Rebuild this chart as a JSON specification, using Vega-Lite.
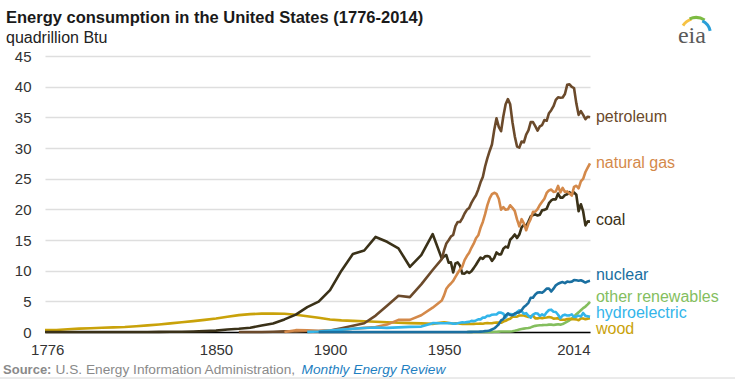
{
  "$schema": "https://vega.github.io/schema/vega-lite/v6.json",
  "width": 545,
  "height": 276,
  "autosize": {"type": "none"},
  "padding": {"left": 45, "top": 56, "right": 145, "bottom": 48},
  "background": "white",
  "config": {
    "view": {"stroke": null},
    "font": "Liberation Sans",
    "text": {"font": "Liberation Sans"},
    "axisX": {
      "format": "d",
      "labelFlush": true,
      "labelOverlap": false,
      "ticks": false,
      "grid": false,
      "domain": true,
      "domainColor": "#000000",
      "domainWidth": 1.5,
      "labelFont": "Liberation Sans",
      "labelFontSize": 15,
      "labelColor": "#333333",
      "labelPadding": 10
    },
    "axisY": {
      "labelOverlap": false,
      "ticks": false,
      "domain": false,
      "grid": true,
      "gridColor": "#dedede",
      "gridWidth": 1.5,
      "labelFont": "Liberation Sans",
      "labelFontSize": 15,
      "labelColor": "#333333",
      "labelPadding": 14
    }
  },
  "datasets": {
    "energy": [
      {"year": 1775, "wood": 0.30, "coal": 0.0},
      {"year": 1780, "wood": 0.33, "coal": 0.0},
      {"year": 1785, "wood": 0.45, "coal": 0.0},
      {"year": 1790, "wood": 0.55, "coal": 0.0},
      {"year": 1795, "wood": 0.62, "coal": 0.0},
      {"year": 1800, "wood": 0.70, "coal": 0.0},
      {"year": 1805, "wood": 0.76, "coal": 0.01},
      {"year": 1810, "wood": 0.82, "coal": 0.01},
      {"year": 1815, "wood": 0.95, "coal": 0.01},
      {"year": 1820, "wood": 1.08, "coal": 0.01},
      {"year": 1825, "wood": 1.22, "coal": 0.02},
      {"year": 1830, "wood": 1.40, "coal": 0.03},
      {"year": 1835, "wood": 1.58, "coal": 0.05},
      {"year": 1840, "wood": 1.78, "coal": 0.09},
      {"year": 1845, "wood": 1.98, "coal": 0.14},
      {"year": 1850, "wood": 2.20, "coal": 0.22},
      {"year": 1855, "wood": 2.50, "coal": 0.40},
      {"year": 1860, "wood": 2.75, "coal": 0.52, "petroleum": 0.0},
      {"year": 1865, "wood": 2.92, "coal": 0.70, "petroleum": 0.01},
      {"year": 1870, "wood": 3.00, "coal": 1.05, "petroleum": 0.01},
      {"year": 1875, "wood": 3.02, "coal": 1.40, "petroleum": 0.05},
      {"year": 1880, "wood": 2.98, "coal": 2.05, "petroleum": 0.10, "natural gas": 0.0},
      {"year": 1885, "wood": 2.80, "coal": 2.84, "petroleum": 0.04, "natural gas": 0.30},
      {"year": 1890, "wood": 2.58, "coal": 4.06, "petroleum": 0.16, "natural gas": 0.26, "hydroelectric": 0.02},
      {"year": 1895, "wood": 2.33, "coal": 4.95, "petroleum": 0.17, "natural gas": 0.15, "hydroelectric": 0.09, "nuclear": 0.0},
      {"year": 1900, "wood": 2.05, "coal": 6.84, "petroleum": 0.23, "natural gas": 0.25, "hydroelectric": 0.25, "nuclear": 0.0},
      {"year": 1905, "wood": 1.90, "coal": 10.00, "petroleum": 0.61, "natural gas": 0.37, "hydroelectric": 0.39, "nuclear": 0.0},
      {"year": 1910, "wood": 1.82, "coal": 12.71, "petroleum": 1.01, "natural gas": 0.54, "hydroelectric": 0.54, "nuclear": 0.0},
      {"year": 1915, "wood": 1.75, "coal": 13.29, "petroleum": 1.42, "natural gas": 0.67, "hydroelectric": 0.66, "nuclear": 0.0},
      {"year": 1920, "wood": 1.68, "coal": 15.50, "petroleum": 2.68, "natural gas": 0.81, "hydroelectric": 0.74, "nuclear": 0.0},
      {"year": 1925, "wood": 1.60, "coal": 14.71, "petroleum": 4.28, "natural gas": 1.21, "hydroelectric": 0.67, "nuclear": 0.0},
      {"year": 1930, "wood": 1.52, "coal": 13.64, "petroleum": 5.90, "natural gas": 1.97, "hydroelectric": 0.75, "nuclear": 0.0},
      {"year": 1935, "wood": 1.45, "coal": 10.63, "petroleum": 5.68, "natural gas": 1.97, "hydroelectric": 0.83, "nuclear": 0.0},
      {"year": 1940, "wood": 1.40, "coal": 12.54, "petroleum": 7.76, "natural gas": 2.73, "hydroelectric": 0.88, "nuclear": 0.0},
      {"year": 1945, "wood": 1.32, "coal": 15.97, "petroleum": 10.11, "natural gas": 3.97, "hydroelectric": 1.44, "nuclear": 0.0},
      {"year": 1949, "petroleum": 11.883, "natural gas": 5.145, "coal": 11.981, "nuclear": 0, "hydroelectric": 1.425, "wood": 1.549},
      {"year": 1950, "petroleum": 13.315, "natural gas": 5.968, "coal": 12.347, "nuclear": 0, "hydroelectric": 1.415, "wood": 1.562},
      {"year": 1951, "petroleum": 14.428, "natural gas": 7.049, "coal": 12.553, "nuclear": 0, "hydroelectric": 1.424, "wood": 1.535},
      {"year": 1952, "petroleum": 14.956, "natural gas": 7.550, "coal": 11.306, "nuclear": 0, "hydroelectric": 1.466, "wood": 1.474},
      {"year": 1953, "petroleum": 15.556, "natural gas": 7.907, "coal": 11.373, "nuclear": 0, "hydroelectric": 1.413, "wood": 1.419},
      {"year": 1954, "petroleum": 15.839, "natural gas": 8.330, "coal": 9.715, "nuclear": 0, "hydroelectric": 1.360, "wood": 1.394},
      {"year": 1955, "petroleum": 17.255, "natural gas": 9.000, "coal": 11.167, "nuclear": 0, "hydroelectric": 1.360, "wood": 1.424},
      {"year": 1956, "petroleum": 17.937, "natural gas": 9.614, "coal": 11.350, "nuclear": 0, "hydroelectric": 1.435, "wood": 1.416},
      {"year": 1957, "petroleum": 17.932, "natural gas": 10.191, "coal": 10.821, "nuclear": 0, "hydroelectric": 1.516, "wood": 1.334},
      {"year": 1958, "petroleum": 18.527, "natural gas": 10.663, "coal": 9.533, "nuclear": 0.002, "hydroelectric": 1.592, "wood": 1.323},
      {"year": 1959, "petroleum": 19.323, "natural gas": 11.717, "coal": 9.518, "nuclear": 0.002, "hydroelectric": 1.548, "wood": 1.353},
      {"year": 1960, "petroleum": 19.919, "natural gas": 12.385, "coal": 9.838, "nuclear": 0.006, "hydroelectric": 1.608, "wood": 1.320, "other renewables": 0.0},
      {"year": 1961, "petroleum": 20.216, "natural gas": 12.926, "coal": 9.623, "nuclear": 0.020, "hydroelectric": 1.656, "wood": 1.295, "other renewables": 0.0},
      {"year": 1962, "petroleum": 21.049, "natural gas": 13.731, "coal": 9.906, "nuclear": 0.026, "hydroelectric": 1.816, "wood": 1.300, "other renewables": 0.0},
      {"year": 1963, "petroleum": 21.701, "natural gas": 14.403, "coal": 10.413, "nuclear": 0.038, "hydroelectric": 1.771, "wood": 1.323, "other renewables": 0.0},
      {"year": 1964, "petroleum": 22.301, "natural gas": 15.288, "coal": 10.964, "nuclear": 0.040, "hydroelectric": 1.886, "wood": 1.337, "other renewables": 0.0},
      {"year": 1965, "petroleum": 23.246, "natural gas": 15.769, "coal": 11.581, "nuclear": 0.043, "hydroelectric": 2.059, "wood": 1.335, "other renewables": 0.0},
      {"year": 1966, "petroleum": 24.401, "natural gas": 16.995, "coal": 12.143, "nuclear": 0.064, "hydroelectric": 2.062, "wood": 1.369, "other renewables": 0.0},
      {"year": 1967, "petroleum": 25.284, "natural gas": 17.945, "coal": 11.914, "nuclear": 0.088, "hydroelectric": 2.347, "wood": 1.340, "other renewables": 0.0},
      {"year": 1968, "petroleum": 26.979, "natural gas": 19.210, "coal": 12.331, "nuclear": 0.142, "hydroelectric": 2.349, "wood": 1.419, "other renewables": 0.0},
      {"year": 1969, "petroleum": 28.338, "natural gas": 20.678, "coal": 12.382, "nuclear": 0.154, "hydroelectric": 2.648, "wood": 1.440, "other renewables": 0.01},
      {"year": 1970, "petroleum": 29.521, "natural gas": 21.795, "coal": 12.265, "nuclear": 0.239, "hydroelectric": 2.634, "wood": 1.429, "other renewables": 0.01},
      {"year": 1971, "petroleum": 30.561, "natural gas": 22.469, "coal": 11.598, "nuclear": 0.413, "hydroelectric": 2.824, "wood": 1.432, "other renewables": 0.01},
      {"year": 1972, "petroleum": 32.947, "natural gas": 22.698, "coal": 12.077, "nuclear": 0.584, "hydroelectric": 2.864, "wood": 1.503, "other renewables": 0.03},
      {"year": 1973, "petroleum": 34.840, "natural gas": 22.512, "coal": 12.971, "nuclear": 0.910, "hydroelectric": 2.861, "wood": 1.527, "other renewables": 0.05},
      {"year": 1974, "petroleum": 33.455, "natural gas": 21.732, "coal": 12.663, "nuclear": 1.272, "hydroelectric": 3.177, "wood": 1.538, "other renewables": 0.06},
      {"year": 1975, "petroleum": 32.731, "natural gas": 19.948, "coal": 12.663, "nuclear": 1.900, "hydroelectric": 3.155, "wood": 1.497, "other renewables": 0.07},
      {"year": 1976, "petroleum": 35.175, "natural gas": 20.345, "coal": 13.584, "nuclear": 2.111, "hydroelectric": 2.976, "wood": 1.711, "other renewables": 0.08},
      {"year": 1977, "petroleum": 37.122, "natural gas": 19.931, "coal": 13.922, "nuclear": 2.702, "hydroelectric": 2.333, "wood": 1.837, "other renewables": 0.08},
      {"year": 1978, "petroleum": 37.965, "natural gas": 20.000, "coal": 13.766, "nuclear": 3.024, "hydroelectric": 2.937, "wood": 2.036, "other renewables": 0.07},
      {"year": 1979, "petroleum": 37.123, "natural gas": 20.666, "coal": 15.040, "nuclear": 2.776, "hydroelectric": 2.931, "wood": 2.152, "other renewables": 0.08},
      {"year": 1980, "petroleum": 34.202, "natural gas": 20.235, "coal": 15.423, "nuclear": 2.739, "hydroelectric": 2.900, "wood": 2.476, "other renewables": 0.11},
      {"year": 1981, "petroleum": 31.931, "natural gas": 19.747, "coal": 15.908, "nuclear": 3.008, "hydroelectric": 2.758, "wood": 2.496, "other renewables": 0.20},
      {"year": 1982, "petroleum": 30.232, "natural gas": 18.356, "coal": 15.322, "nuclear": 3.131, "hydroelectric": 3.266, "wood": 2.510, "other renewables": 0.30},
      {"year": 1983, "petroleum": 30.054, "natural gas": 17.221, "coal": 15.894, "nuclear": 3.203, "hydroelectric": 3.527, "wood": 2.684, "other renewables": 0.40},
      {"year": 1984, "petroleum": 31.051, "natural gas": 18.394, "coal": 17.071, "nuclear": 3.553, "hydroelectric": 3.386, "wood": 2.686, "other renewables": 0.50},
      {"year": 1985, "petroleum": 30.922, "natural gas": 17.703, "coal": 17.478, "nuclear": 4.076, "hydroelectric": 2.970, "wood": 2.687, "other renewables": 0.55},
      {"year": 1986, "petroleum": 32.196, "natural gas": 16.591, "coal": 17.260, "nuclear": 4.380, "hydroelectric": 3.071, "wood": 2.562, "other renewables": 0.60},
      {"year": 1987, "petroleum": 32.865, "natural gas": 17.640, "coal": 18.008, "nuclear": 4.754, "hydroelectric": 2.635, "wood": 2.463, "other renewables": 0.65},
      {"year": 1988, "petroleum": 34.222, "natural gas": 18.448, "coal": 18.846, "nuclear": 5.587, "hydroelectric": 2.334, "wood": 2.577, "other renewables": 0.75},
      {"year": 1989, "petroleum": 34.211, "natural gas": 19.602, "coal": 19.070, "nuclear": 5.602, "hydroelectric": 2.837, "wood": 2.680, "other renewables": 0.90},
      {"year": 1990, "petroleum": 33.553, "natural gas": 19.603, "coal": 19.173, "nuclear": 6.104, "hydroelectric": 3.046, "wood": 2.216, "other renewables": 1.00},
      {"year": 1991, "petroleum": 32.845, "natural gas": 20.033, "coal": 18.992, "nuclear": 6.422, "hydroelectric": 3.016, "wood": 2.214, "other renewables": 1.05},
      {"year": 1992, "petroleum": 33.527, "natural gas": 20.714, "coal": 19.122, "nuclear": 6.479, "hydroelectric": 2.617, "wood": 2.313, "other renewables": 1.10},
      {"year": 1993, "petroleum": 33.744, "natural gas": 21.229, "coal": 19.835, "nuclear": 6.410, "hydroelectric": 2.892, "wood": 2.260, "other renewables": 1.12},
      {"year": 1994, "petroleum": 34.561, "natural gas": 21.728, "coal": 19.909, "nuclear": 6.694, "hydroelectric": 2.683, "wood": 2.324, "other renewables": 1.15},
      {"year": 1995, "petroleum": 34.438, "natural gas": 22.671, "coal": 20.089, "nuclear": 7.075, "hydroelectric": 3.205, "wood": 2.370, "other renewables": 1.15},
      {"year": 1996, "petroleum": 35.675, "natural gas": 23.085, "coal": 21.002, "nuclear": 7.087, "hydroelectric": 3.590, "wood": 2.437, "other renewables": 1.20},
      {"year": 1997, "petroleum": 36.159, "natural gas": 23.223, "coal": 21.445, "nuclear": 6.597, "hydroelectric": 3.640, "wood": 2.371, "other renewables": 1.20},
      {"year": 1998, "petroleum": 36.816, "natural gas": 22.830, "coal": 21.656, "nuclear": 7.068, "hydroelectric": 3.297, "wood": 2.184, "other renewables": 1.15},
      {"year": 1999, "petroleum": 37.838, "natural gas": 22.909, "coal": 21.623, "nuclear": 7.610, "hydroelectric": 3.268, "wood": 2.214, "other renewables": 1.20},
      {"year": 2000, "petroleum": 38.262, "natural gas": 23.824, "coal": 22.580, "nuclear": 7.862, "hydroelectric": 2.811, "wood": 2.262, "other renewables": 1.25},
      {"year": 2001, "petroleum": 38.186, "natural gas": 22.773, "coal": 21.914, "nuclear": 8.029, "hydroelectric": 2.242, "wood": 2.006, "other renewables": 1.20},
      {"year": 2002, "petroleum": 38.224, "natural gas": 23.510, "coal": 21.904, "nuclear": 8.145, "hydroelectric": 2.689, "wood": 1.995, "other renewables": 1.30},
      {"year": 2003, "petroleum": 38.811, "natural gas": 22.831, "coal": 22.321, "nuclear": 7.960, "hydroelectric": 2.825, "wood": 2.002, "other renewables": 1.50},
      {"year": 2004, "petroleum": 40.292, "natural gas": 22.923, "coal": 22.466, "nuclear": 8.223, "hydroelectric": 2.690, "wood": 2.121, "other renewables": 1.70},
      {"year": 2005, "petroleum": 40.388, "natural gas": 22.565, "coal": 22.797, "nuclear": 8.161, "hydroelectric": 2.703, "wood": 2.137, "other renewables": 1.90},
      {"year": 2006, "petroleum": 39.955, "natural gas": 22.239, "coal": 22.447, "nuclear": 8.215, "hydroelectric": 2.869, "wood": 2.099, "other renewables": 2.20},
      {"year": 2007, "petroleum": 39.774, "natural gas": 23.663, "coal": 22.749, "nuclear": 8.459, "hydroelectric": 2.446, "wood": 2.089, "other renewables": 2.50},
      {"year": 2008, "petroleum": 37.280, "natural gas": 23.843, "coal": 22.385, "nuclear": 8.426, "hydroelectric": 2.511, "wood": 2.059, "other renewables": 2.90},
      {"year": 2009, "petroleum": 35.403, "natural gas": 23.416, "coal": 19.691, "nuclear": 8.355, "hydroelectric": 2.669, "wood": 1.931, "other renewables": 3.20},
      {"year": 2010, "petroleum": 36.010, "natural gas": 24.575, "coal": 20.834, "nuclear": 8.434, "hydroelectric": 2.539, "wood": 2.216, "other renewables": 3.55},
      {"year": 2011, "petroleum": 35.400, "natural gas": 24.955, "coal": 19.658, "nuclear": 8.269, "hydroelectric": 3.103, "wood": 2.211, "other renewables": 3.90},
      {"year": 2012, "petroleum": 34.690, "natural gas": 26.089, "coal": 17.378, "nuclear": 8.062, "hydroelectric": 2.629, "wood": 2.091, "other renewables": 4.15},
      {"year": 2013, "petroleum": 35.100, "natural gas": 26.805, "coal": 18.039, "nuclear": 8.244, "hydroelectric": 2.562, "wood": 2.180, "other renewables": 4.50},
      {"year": 2014, "petroleum": 35.000, "natural gas": 27.500, "coal": 17.998, "nuclear": 8.338, "hydroelectric": 2.467, "wood": 2.230, "other renewables": 4.90}
    ],
    "labels": [
      {"series": "petroleum", "value": 35.05},
      {"series": "natural gas", "value": 27.55},
      {"series": "coal", "value": 18.26},
      {"series": "nuclear", "value": 9.29},
      {"series": "other renewables", "value": 5.71},
      {"series": "hydroelectric", "value": 3.1},
      {"series": "wood", "value": 0.49}
    ]
  },
  "layer": [
    {
      "data": {"name": "energy"},
      "transform": [
        {"fold": ["other renewables"], "as": ["series", "value"]},
        {"filter": "isValid(datum.value)"}
      ],
      "mark": {"type": "line", "strokeWidth": 2.6, "strokeJoin": "round"},
      "encoding": {
        "x": {"field": "year", "type": "quantitative", "scale": {"domain": [1775, 2014], "nice": false, "zero": false}, "axis": {"values": [1776, 1850, 1900, 1950, 2014], "title": null}},
        "y": {"field": "value", "type": "quantitative", "scale": {"domain": [0, 45], "nice": false}, "axis": {"values": [0, 5, 10, 15, 20, 25, 30, 35, 40, 45], "title": null}},
        "color": {
          "field": "series",
          "type": "nominal",
          "scale": {
            "domain": ["petroleum", "natural gas", "coal", "nuclear", "other renewables", "hydroelectric", "wood"],
            "range": ["#6b4a2b", "#d4894a", "#3a3118", "#1a6fa0", "#84be5e", "#33b5ea", "#c9a20a"]
          },
          "legend": null
        }
      }
    },
    {
      "data": {"name": "energy"},
      "transform": [
        {"fold": ["wood", "hydroelectric", "nuclear", "coal", "natural gas", "petroleum"], "as": ["series", "value"]},
        {"filter": "isValid(datum.value)"}
      ],
      "mark": {"type": "line", "strokeWidth": 2.6, "strokeJoin": "round"},
      "encoding": {
        "x": {"field": "year", "type": "quantitative", "axis": {"values": [1776, 1850, 1900, 1950, 2014], "title": null}},
        "y": {"field": "value", "type": "quantitative", "axis": {"values": [0, 5, 10, 15, 20, 25, 30, 35, 40, 45], "title": null}},
        "color": {"field": "series", "type": "nominal", "legend": null}
      }
    },
    {
      "data": {"name": "labels"},
      "mark": {"type": "text", "align": "left", "baseline": "middle", "fontSize": 16, "font": "Liberation Sans"},
      "encoding": {
        "x": {"datum": 2016.6, "type": "quantitative", "axis": {"values": [1776, 1850, 1900, 1950, 2014], "title": null}},
        "y": {"field": "value", "type": "quantitative", "axis": {"values": [0, 5, 10, 15, 20, 25, 30, 35, 40, 45], "title": null}},
        "text": {"field": "series"},
        "color": {"field": "series", "type": "nominal", "legend": null}
      }
    },
    {
      "data": {"values": [{"t": "Energy consumption in the United States (1776-2014)"}]},
      "mark": {"type": "text", "align": "left", "baseline": "alphabetic", "fontSize": 16.5, "fontWeight": "bold", "color": "#1a1a1a"},
      "encoding": {
        "x": {"datum": 1757.9, "type": "quantitative", "axis": {"values": [1776, 1850, 1900, 1950, 2014], "title": null}},
        "y": {"datum": 50.43, "type": "quantitative", "axis": {"values": [0, 5, 10, 15, 20, 25, 30, 35, 40, 45], "title": null}},
        "text": {"field": "t"}
      }
    },
    {
      "data": {"values": [{"t": "quadrillion Btu"}]},
      "mark": {"type": "text", "align": "left", "baseline": "alphabetic", "fontSize": 16, "color": "#222222"},
      "encoding": {
        "x": {"datum": 1757.9, "type": "quantitative", "axis": {"values": [1776, 1850, 1900, 1950, 2014], "title": null}},
        "y": {"datum": 47.17, "type": "quantitative", "axis": {"values": [0, 5, 10, 15, 20, 25, 30, 35, 40, 45], "title": null}},
        "text": {"field": "t"}
      }
    },
    {
      "data": {"values": [{"t": "Source:"}]},
      "mark": {"type": "text", "align": "left", "baseline": "middle", "fontSize": 13, "fontWeight": "bold", "color": "#8a8a8a"},
      "encoding": {
        "x": {"datum": 1756.6, "type": "quantitative", "axis": {"values": [1776, 1850, 1900, 1950, 2014], "title": null}},
        "y": {"datum": -6.2, "type": "quantitative", "axis": {"values": [0, 5, 10, 15, 20, 25, 30, 35, 40, 45], "title": null}},
        "text": {"field": "t"}
      }
    },
    {
      "data": {"values": [{"t": "U.S. Energy Information Administration,"}]},
      "mark": {"type": "text", "align": "left", "baseline": "middle", "fontSize": 13.7, "color": "#8a8a8a"},
      "encoding": {
        "x": {"datum": 1779.6, "type": "quantitative", "axis": {"values": [1776, 1850, 1900, 1950, 2014], "title": null}},
        "y": {"datum": -6.2, "type": "quantitative", "axis": {"values": [0, 5, 10, 15, 20, 25, 30, 35, 40, 45], "title": null}},
        "text": {"field": "t"}
      }
    },
    {
      "data": {"values": [{"t": "Monthly Energy Review"}]},
      "mark": {"type": "text", "align": "left", "baseline": "middle", "fontSize": 13.7, "fontStyle": "italic", "color": "#1f7fc1"},
      "encoding": {
        "x": {"datum": 1887.5, "type": "quantitative", "axis": {"values": [1776, 1850, 1900, 1950, 2014], "title": null}},
        "y": {"datum": -6.2, "type": "quantitative", "axis": {"values": [0, 5, 10, 15, 20, 25, 30, 35, 40, 45], "title": null}},
        "text": {"field": "t"}
      }
    },
    {
      "data": {"values": [{}]},
      "mark": {"type": "rule", "color": "#d6d6d6", "strokeWidth": 1},
      "encoding": {
        "x": {"datum": 1755.2, "type": "quantitative", "axis": {"values": [1776, 1850, 1900, 1950, 2014], "title": null}},
        "x2": {"datum": 2078},
        "y": {"datum": -7.5, "type": "quantitative", "axis": {"values": [0, 5, 10, 15, 20, 25, 30, 35, 40, 45], "title": null}}
      }
    },
    {
      "data": {"values": [{"t": "eia"}]},
      "mark": {"type": "text", "align": "center", "baseline": "alphabetic", "fontSize": 24, "font": "Liberation Serif", "color": "#5a5a5a"},
      "encoding": {
        "x": {"datum": 2058.7, "type": "quantitative", "axis": {"values": [1776, 1850, 1900, 1950, 2014], "title": null}},
        "y": {"datum": 47.12, "type": "quantitative", "axis": {"values": [0, 5, 10, 15, 20, 25, 30, 35, 40, 45], "title": null}},
        "text": {"field": "t"}
      }
    },
    {
      "data": {"values": [{}]},
      "mark": {"type": "arc", "theta": -1.0, "theta2": -0.3, "radius": 17, "radius2": 14, "color": "#f6c244"},
      "encoding": {
        "x": {"datum": 2060.5, "type": "quantitative", "axis": {"values": [1776, 1850, 1900, 1950, 2014], "title": null}},
        "y": {"datum": 48.59, "type": "quantitative", "axis": {"values": [0, 5, 10, 15, 20, 25, 30, 35, 40, 45], "title": null}}
      }
    },
    {
      "data": {"values": [{}]},
      "mark": {"type": "arc", "theta": -0.4, "theta2": 0.55, "radius": 18, "radius2": 15, "color": "#7dbb42"},
      "encoding": {
        "x": {"datum": 2060.5, "type": "quantitative", "axis": {"values": [1776, 1850, 1900, 1950, 2014], "title": null}},
        "y": {"datum": 48.59, "type": "quantitative", "axis": {"values": [0, 5, 10, 15, 20, 25, 30, 35, 40, 45], "title": null}}
      }
    },
    {
      "data": {"values": [{}]},
      "mark": {"type": "arc", "theta": 0.45, "theta2": 1.35, "radius": 16, "radius2": 13, "color": "#2a9fd8"},
      "encoding": {
        "x": {"datum": 2060.5, "type": "quantitative", "axis": {"values": [1776, 1850, 1900, 1950, 2014], "title": null}},
        "y": {"datum": 48.59, "type": "quantitative", "axis": {"values": [0, 5, 10, 15, 20, 25, 30, 35, 40, 45], "title": null}}
      }
    }
  ]
}
